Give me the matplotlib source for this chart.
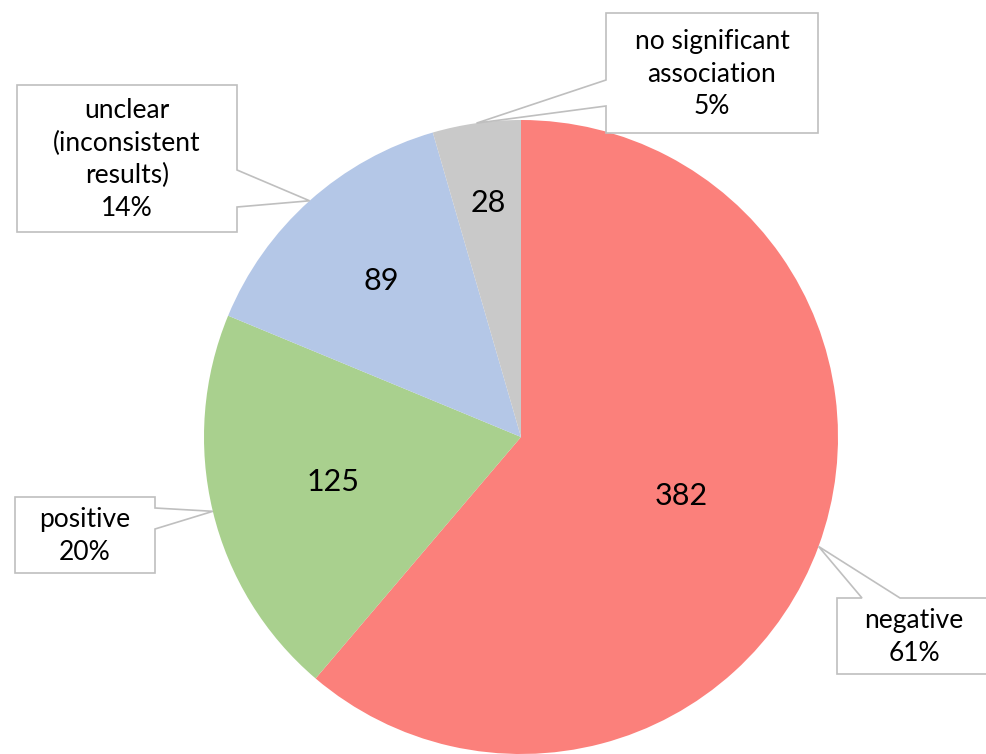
import numpy as np
import matplotlib.pyplot as plt
from matplotlib.patches import Polygon

plt.rcParams['font.family'] = ['Lato', 'DejaVu Sans']

# study outcomes, clockwise from 12 o'clock
categories = ['negative', 'positive', 'unclear\n(inconsistent\nresults)', 'no significant\nassociation']
counts = [382, 125, 89, 28]
colors = ['#FB807B', '#A9D08E', '#B4C7E7', '#C9C9C9']

# layout in pixels (y grows downward)
W, H = 987, 754
cx, cy, R = 521, 437, 317
value_dist = [0.54, 0.61, 0.66, 0.745]
# callout boxes: (x0, y0, x1, y1, side, base_a, base_b)
boxes = [
    (837, 598, 990, 674, 'top', 862, 900),
    (15, 497, 155, 573, 'right', 508, 529),
    (17, 85, 237, 232, 'right', 170, 207),
    (606, 13, 818, 133, 'left', 80, 106),
]

# whole percentages that add up to 100 (largest remainder)
raw = np.array(counts) / sum(counts) * 100
pcts = np.floor(raw).astype(int)
order = np.argsort(-(raw - pcts))
for i in order[:100 - pcts.sum()]:
    pcts[i] += 1

fig = plt.figure(figsize=(W / 100, H / 100), dpi=100)
ax = fig.add_axes([0, 0, 1, 1])

wedges, _ = ax.pie(counts, colors=colors, startangle=-90, counterclock=True,
                   center=(cx, cy), radius=R, frame=True,
                   wedgeprops=dict(linewidth=0))
ax.set_xlim(0, W)
ax.set_ylim(H, 0)
ax.set_aspect('equal')
ax.axis('off')

for w, n, lab, pct, d, box in zip(wedges, counts, categories, pcts, value_dist, boxes):
    mid = np.deg2rad((w.theta1 + w.theta2) / 2)
    ax.text(cx + d * R * np.cos(mid), cy + d * R * np.sin(mid), str(n),
            ha='center', va='center', fontsize=22)

    # callout with pointer to the wedge edge
    tx, ty = cx + R * np.cos(mid), cy + R * np.sin(mid)
    x0, y0, x1, y1, side, a, b = box
    if side == 'right':
        pts = [(x0, y0), (x1, y0), (x1, a), (tx, ty), (x1, b), (x1, y1), (x0, y1)]
    elif side == 'left':
        pts = [(x0, y0), (x1, y0), (x1, y1), (x0, y1), (x0, b), (tx, ty), (x0, a)]
    else:
        pts = [(x0, y0), (a, y0), (tx, ty), (b, y0), (x1, y0), (x1, y1), (x0, y1)]
    ax.add_patch(Polygon(pts, closed=True, facecolor='white', edgecolor='#BFBFBF',
                         linewidth=1.2, zorder=3))
    ax.text((x0 + min(x1, W)) / 2 + (2 if side == 'top' else 0), (y0 + y1) / 2 + 1,
            f'{lab}\n{pct}%', ha='center', va='center', fontsize=19,
            linespacing=1.38, zorder=4)

fig.savefig('out.png', dpi=100)
